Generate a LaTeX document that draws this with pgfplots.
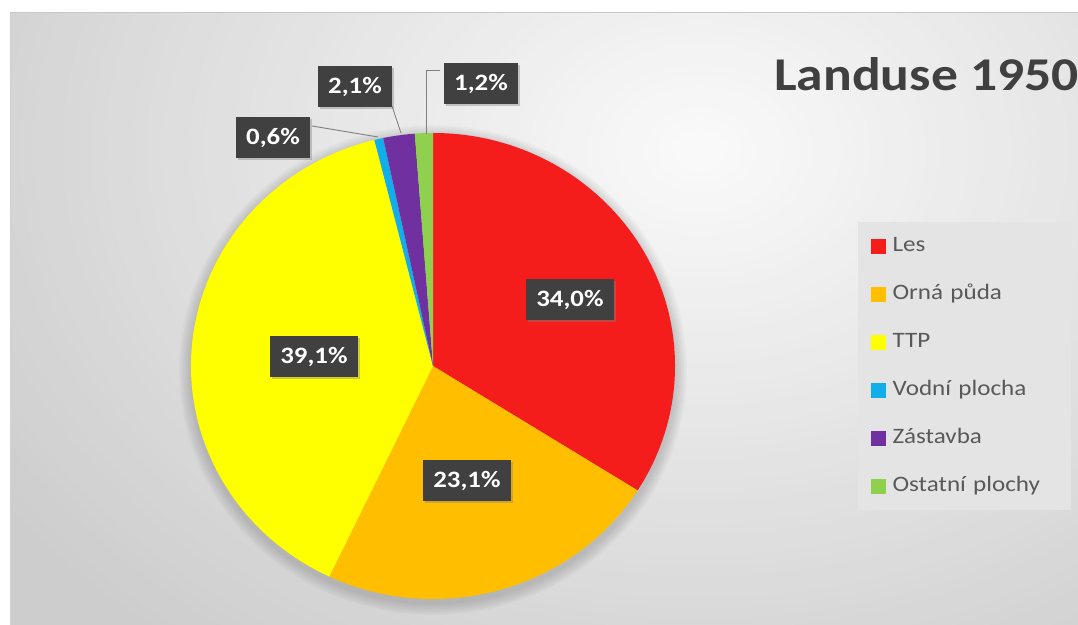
\documentclass[border=0pt]{standalone}
\usepackage{pgfplots}
\pgfplotsset{compat=1.18}
\usepackage{pgfplotstable}
\usepackage{fontspec}
\setmainfont{Carlito}[FakeStretch=1.14]
\usetikzlibrary{shadows}

\definecolor{c0}{HTML}{F51C1C}
\definecolor{c1}{HTML}{FFBE00}
\definecolor{c2}{HTML}{FFFF00}
\definecolor{c3}{HTML}{12AEEA}
\definecolor{c4}{HTML}{7030A0}
\definecolor{c5}{HTML}{8FD14F}
\definecolor{lbl}{HTML}{404040}
\definecolor{txt}{HTML}{595959}
\definecolor{lgfill}{HTML}{E4E4E4}
\definecolor{bgin}{HTML}{FAFAFA}
\definecolor{bgout}{HTML}{CDCDCD}

\pgfplotstableread{
id name val
0 Les 34.0
1 {Orná půda} 23.1
2 TTP 39.1
3 {Vodní plocha} 0.6
4 Zástavba 2.1
5 {Ostatní plochy} 1.2
}\landuse

\tikzset{lab/.style={fill=lbl, text=white, inner xsep=10bp, inner ysep=0bp,
    minimum height=41bp, font=\fontsize{23.5bp}{27bp}\selectfont\bfseries,
    drop shadow={shadow xshift=2bp, shadow yshift=-2bp, opacity=0.4}}}

\begin{document}
\begin{tikzpicture}
% wedge angles from the values (clockwise from 12 o'clock)
\def\wTot{0}
\foreach \i in {0,...,5}{%
  \pgfplotstablegetelem{\i}{val}\of\landuse
  \pgfmathsetmacro\wTmp{\wTot+\pgfplotsretval}%
  \xdef\wTot{\wTmp}%
}
\def\wCum{0}
\foreach \i in {0,...,5}{%
  \pgfplotstablegetelem{\i}{val}\of\landuse
  \pgfmathsetmacro\wS{90-(\wCum/\wTot)*360}%
  \pgfmathsetmacro\wC{\wCum+\pgfplotsretval}%
  \pgfmathsetmacro\wE{90-(\wC/\wTot)*360}%
  \expandafter\xdef\csname sa\i\endcsname{\wS}%
  \expandafter\xdef\csname ea\i\endcsname{\wE}%
  \xdef\wCum{\wC}%
}

% background, pixel coordinates
\begin{scope}[shift={(0,625bp)}, x=1bp, y=-1bp]
  \fill[white] (0,0) rectangle (1078,625);
  \fill[bgout] (10,13) rectangle (1078,625);
  \begin{scope}
    \clip (10,13) rectangle (1078,625);
    \foreach \k in {60,59,...,1}{
      \pgfmathsetmacro\pc{\k/60*100}
      \pgfmathsetmacro\rx{850/60*\k}
      \pgfmathsetmacro\ry{640/60*\k}
      \fill[bgout!\pc!bgin] (700,150) ellipse [x radius=\rx bp, y radius=\ry bp];
    }
  \end{scope}
  \draw[black!22, line width=1bp] (10,13) -- (1078,13);
  \draw[black!18, line width=1bp] (10,13) -- (10,625);
  \foreach \k in {1,...,8}
    \fill[black, opacity=0.018] (433,370) ellipse [x radius={(242+\k*1.5)*1bp}, y radius={(233+\k*1.5)*1bp}];
\end{scope}

\begin{axis}[
    at={(0,0)}, anchor=south west,
    x=242bp, y=233bp,
    scale only axis,
    hide axis,
    xmin=-1.78926, xmax=2.66529,
    ymin=-1.11159, ymax=1.57082,
    legend cell align=left,
    legend image code/.code={\fill[#1] (0bp,-7bp) rectangle (14bp,7bp);},
    legend style={
        at={(rel axis cs:0.7959,0.6448)}, anchor=north west,
        draw=none, fill=lgfill,
        font=\fontsize{22bp}{26bp}\selectfont,
        inner xsep=13bp, inner ysep=14bp,
        row sep=28bp,
        nodes={text=txt, inner sep=0bp, text height=15bp, text depth=5bp},
        /tikz/every odd column/.append style={column sep=7bp},
        /tikz/every even column/.append style={text width=165bp},
    },
]
\pgfplotsinvokeforeach{0,...,5}{%
  \fill[c#1] (axis cs:0,0) -- ++(\csname sa#1\endcsname:242bp and 233bp)
    arc[start angle=\csname sa#1\endcsname, end angle=\csname ea#1\endcsname,
        x radius=242bp, y radius=233bp] -- cycle;
}
\addlegendimage{c0}\addlegendentry{Les}
\addlegendimage{c1}\addlegendentry{Orná půda}
\addlegendimage{c2}\addlegendentry{TTP}
\addlegendimage{c3}\addlegendentry{Vodní plocha}
\addlegendimage{c4}\addlegendentry{Zástavba}
\addlegendimage{c5}\addlegendentry{Ostatní plochy}
\end{axis}

% labels, title
\begin{scope}[shift={(0,625bp)}, x=1bp, y=-1bp]
  \draw[black!50, line width=0.9bp] (312,126) -- (378,137);
  \draw[black!50, line width=0.9bp] (392,106) -- (401,133);
  \draw[black!50, line width=0.9bp] (440,70) -- (426,70) -- (426,134);
  \node[lab] at (570,300) {34,0\%};
  \node[lab] at (467,481) {23,1\%};
  \node[lab] at (314,357) {39,1\%};
  \node[lab] at (273,138) {0,6\%};
  \node[lab] at (355,87) {2,1\%};
  \node[lab] at (481,84) {1,2\%};
  \node[anchor=base west, inner sep=0bp, text=lbl,
        font=\fontsize{47bp}{52bp}\selectfont\bfseries] at (774,91) {Landuse 1950};
\end{scope}
\pgfresetboundingbox
\path (0,0) rectangle (1078bp,625bp);
\end{tikzpicture}
\end{document}
